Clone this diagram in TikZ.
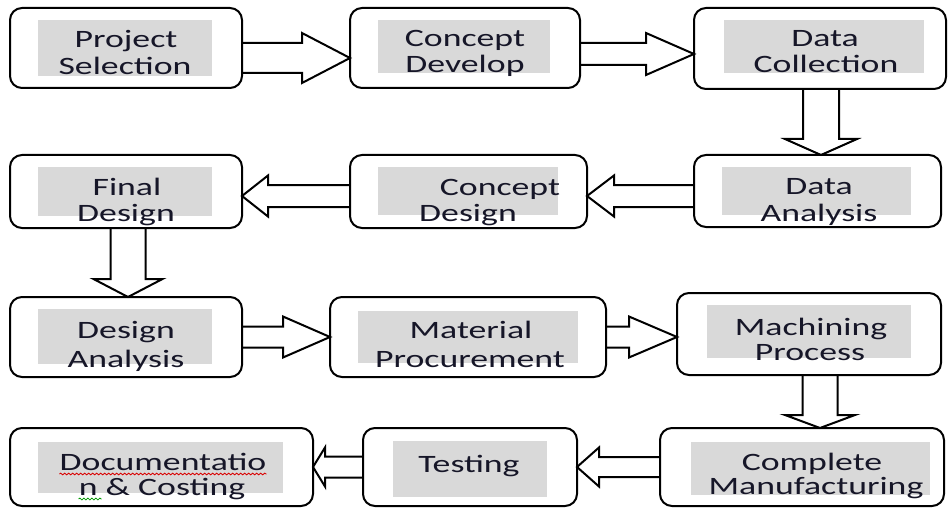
\documentclass[tikz,border=0pt]{standalone}
\usepackage{fontspec}
\newfontfamily\boxfont[FakeStretch=1.43]{Carlito}
\usetikzlibrary{calc,decorations.pathmorphing}
\definecolor{txt}{RGB}{22,22,40}
\definecolor{graybg}{RGB}{217,217,217}
\tikzset{
  box/.style={draw=black, line width=2pt, rounded corners=12pt, inner sep=0pt, outer sep=0pt},
  lbl/.style={anchor=base, inner sep=0pt, font=\boxfont\fontsize{25}{27}\selectfont, text=txt},
  blk/.style={draw=black, line width=2pt, line join=miter},
  wavy/.style={decorate, decoration={snake, amplitude=0.9pt, segment length=4pt}, line width=0.8pt}
}
\newcommand{\boxnode}[5]{\node[box, minimum width={#4-#2}, minimum height={#5-#3}] (#1) at ({(#2+#4)/2},{(#3+#5)/2}) {};}
\newcommand{\grayrect}[4]{\fill[graybg] (#1,#2) rectangle (#3,#4);}
\newcommand{\arrR}[6]{\draw[blk] ($(#1.east|-0,#3)+(0,-#4)$) -- ($(#2.west|-0,#3)+(-#6,-#4)$) -- ($(#2.west|-0,#3)+(-#6,-#5)$) -- (#2.west|-0,#3) -- ($(#2.west|-0,#3)+(-#6,#5)$) -- ($(#2.west|-0,#3)+(-#6,#4)$) -- ($(#1.east|-0,#3)+(0,#4)$);}
\newcommand{\arrL}[6]{\draw[blk] ($(#1.west|-0,#3)+(0,-#4)$) -- ($(#2.east|-0,#3)+(#6,-#4)$) -- ($(#2.east|-0,#3)+(#6,-#5)$) -- (#2.east|-0,#3) -- ($(#2.east|-0,#3)+(#6,#5)$) -- ($(#2.east|-0,#3)+(#6,#4)$) -- ($(#1.west|-0,#3)+(0,#4)$);}
\newcommand{\arrD}[6]{\draw[blk] ($(#1.south-|#3,0)+(-#4,0)$) -- ($(#2.north-|#3,0)+(-#4,-#6)$) -- ($(#2.north-|#3,0)+(-#5,-#6)$) -- (#2.north-|#3,0) -- ($(#2.north-|#3,0)+(#5,-#6)$) -- ($(#2.north-|#3,0)+(#4,-#6)$) -- ($(#1.south-|#3,0)+(#4,0)$);}
\begin{document}
\begin{tikzpicture}[x=1pt,y=-1pt]
\useasboundingbox (0,0) rectangle (948,508);
\clip (0,0) rectangle (948,508);
\fill[white] (0,0) rectangle (948,508);
% gray text backgrounds
\grayrect{38}{20}{212}{76}
\grayrect{378}{20}{550}{73}
\grayrect{724}{20}{924}{73}
\grayrect{722}{167}{911}{215}
\grayrect{378}{167}{558}{215}
\grayrect{38}{167}{212}{216}
\grayrect{38}{309}{212}{364}
\grayrect{358}{311}{578}{363}
\grayrect{707}{305}{911}{358}
\grayrect{691}{442}{930}{495}
\grayrect{393}{441}{547}{497}
\grayrect{38}{442}{283}{493}
% boxes
\boxnode{b1}{10}{8}{242}{88}
\boxnode{b2}{350}{8}{580}{88}
\boxnode{b3}{694}{8}{946}{89}
\boxnode{b4}{694}{155}{941}{227}
\boxnode{b5}{350}{155}{587}{228}
\boxnode{b6}{10}{155}{242}{228}
\boxnode{b7}{10}{297}{242}{377}
\boxnode{b8}{330}{297}{606}{377}
\boxnode{b9}{677}{293}{941}{375}
\boxnode{b10}{660}{428}{944}{506}
\boxnode{b11}{363}{428}{577}{506}
\boxnode{b12}{10}{428}{313}{506}
% labels
\node[lbl] (t1a) at (126,48) {Project};
\node[lbl] (t1b) at (125,75) {Selection};
\node[lbl] (t2a) at (465,47) {Concept};
\node[lbl] (t2b) at (465,73) {Develop};
\node[lbl] (t3a) at (825,47) {Data};
\node[lbl] (t3b) at (826,73) {Collection};
\node[lbl] (t4a) at (819,194) {Data};
\node[lbl] (t4b) at (819,221) {Analysis};
\node[lbl] (t5a) at (500,195) {Concept};
\node[lbl] (t5b) at (468,222) {Design};
\node[lbl] (t6a) at (127,195) {Final};
\node[lbl] (t6b) at (126,222) {Design};
\node[lbl] (t7a) at (126,338) {Design};
\node[lbl] (t7b) at (126,367) {Analysis};
\node[lbl] (t8a) at (471,338) {Material};
\node[lbl] (t8b) at (470,367) {Procurement};
\node[lbl] (t9a) at (811,335) {Machining};
\node[lbl] (t9b) at (810,360) {Process};
\node[lbl] (t10a) at (812,470) {Complete};
\node[lbl] (t10b) at (816,494) {Manufacturing};
\node[lbl] (t11) at (469,472) {Testing};
\node[lbl] (t12a) at (163,470) {Documentatio};
\node[lbl] (t12b) at (162,495) {n \& Costing};
% spell-check underlines
\draw[wavy, red!85!black] ($(t12a.base west)+(0,4)$) -- ($(t12a.base east)+(0,4)$);
\draw[wavy, green!60!black] ($(t12b.base west)+(0,4)$) -- ($(t12b.base west)+(23,4)$);
% block arrows
\arrR{b1}{b2}{58}{15}{25}{48}
\arrR{b2}{b3}{54}{11}{21}{48}
\arrD{b3}{b4}{821}{18}{36}{16}
\arrL{b4}{b5}{196}{11}{20.5}{27}
\arrL{b5}{b6}{196}{11}{20.5}{26}
\arrD{b6}{b7}{128}{17.5}{34.5}{18}
\arrR{b7}{b8}{337}{10.5}{20.5}{47}
\arrR{b8}{b9}{337}{10.5}{20.5}{48}
\arrD{b9}{b10}{820}{17.5}{35}{13}
\arrL{b10}{b11}{467}{10}{19.5}{22}
\arrL{b11}{b12}{467}{10.5}{19.5}{12}
\end{tikzpicture}
\end{document}
